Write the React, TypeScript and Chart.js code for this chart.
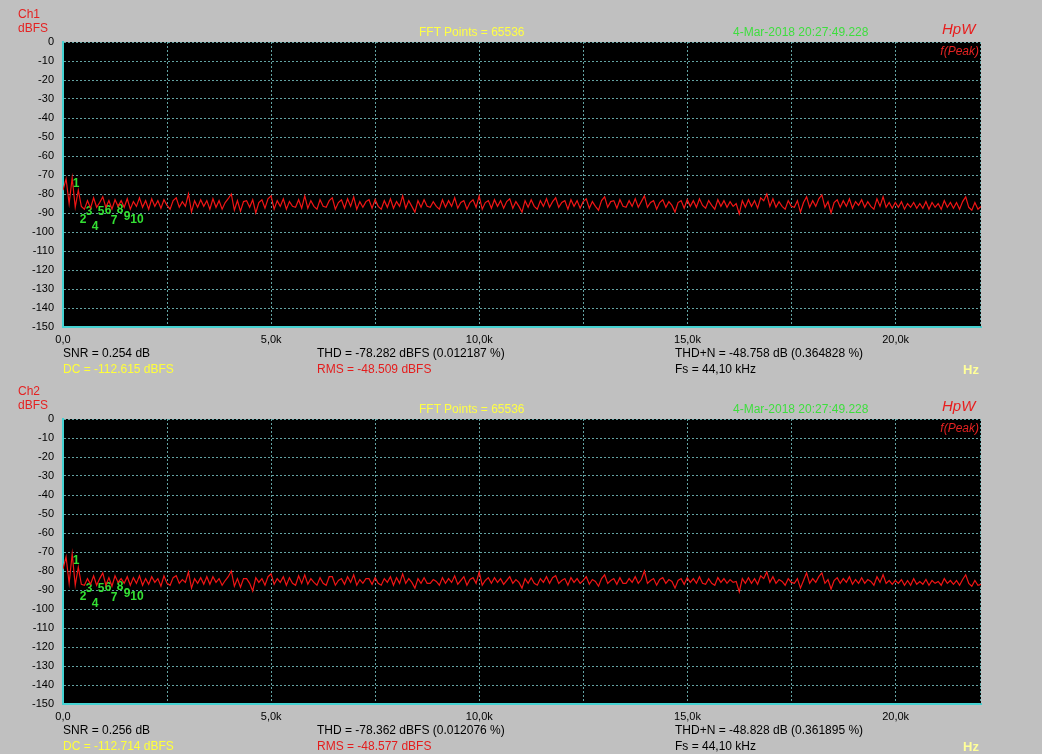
import React, { useEffect, useRef } from "react";
import { Chart, registerables } from "chart.js";

Chart.register(...registerables);

// ---- data ----
const binStepHz = 73.5; // display bin width (Hz)

const ch1Levels = [
  -78, -72, -85, -71.5, -87, -78, -86.5, -88, -83.5, -87.5, -82, -87, -84.5, -81.5, -87, -83.5, -88, -83, -86.5, -83.5,
  -87, -82.5, -88, -84, -86.5, -82, -87, -83.5, -88, -82.5, -86.5, -83.5, -87.5, -83, -86, -88, -83.5, -82, -87, -84,
  -86.5, -80, -89.5, -83.5, -87, -83, -86.5, -83.5, -88, -82.5, -87, -83.5, -88, -84.5, -82.5, -80, -88.5, -83.5, -89, -84,
  -83.5, -87, -83, -90, -84.5, -83, -87.5, -82.5, -81, -88, -83.5, -86.5, -82.5, -88, -84, -86.5, -87, -83, -87.5, -81,
  -87.5, -83.5, -86.5, -88, -83, -86.5, -87, -83.5, -82, -88, -84.5, -83, -87.5, -82.5, -86.5, -81.5, -88, -84, -87, -84,
  -83, -87.5, -83, -86.5, -88, -83.5, -87, -82.5, -87.5, -84, -86.5, -81, -87.5, -83.5, -86.5, -89.5, -83.5, -87, -83, -86.5,
  -87, -84, -86.5, -88, -83, -87, -83.5, -86.5, -82, -87.5, -84.5, -83.5, -88, -84.5, -83, -87, -81, -88, -84.5, -83.5,
  -87.5, -83, -86.5, -83.5, -87.5, -84, -82.5, -87.5, -84, -86.5, -89.5, -83.5, -87, -83, -86.5, -88, -83.5, -86.5, -82.5, -87,
  -84, -82, -87, -84.5, -83.5, -88, -83, -86.5, -83.5, -87.5, -84, -82.5, -87.5, -84, -86.5, -88.5, -83.5, -81.5, -87, -84,
  -83.5, -87.5, -83, -86.5, -87, -83.5, -86.5, -82.5, -87, -84, -81, -87, -84.5, -83.5, -88, -84.5, -83, -87, -84, -86,
  -89.5, -84.5, -83.5, -87.5, -83, -86.5, -83.5, -87, -82.5, -86, -87.5, -83.5, -86, -88, -83, -86.5, -83.5, -87, -84, -86.5,
  -85, -90.5, -83.5, -87, -83, -86.5, -83.5, -87.5, -82, -83.5, -80, -86.5, -82.5, -87, -84, -86.5, -88, -83.5, -86.5, -87,
  -83.5, -89.5, -84.5, -81.5, -87, -83.5, -86.5, -82.5, -80.5, -87, -84, -90, -84.5, -83, -87, -83.5, -86.5, -82.5, -87.5, -84,
  -86, -83, -87, -84, -86.5, -88, -82.5, -86.5, -81.5, -87, -84.5, -87.5, -84.5, -87, -84, -88, -85, -87, -84.5, -87.5,
  -85, -87.5, -84, -88, -84.5, -87, -85, -88, -83.5, -87, -84.5, -87.5, -84.5, -88, -84, -81.5, -87, -88.5, -84.5, -88, -86.5,
];

const ch2Levels = [
  -79, -72.5, -86.5, -71, -87.5, -78, -87, -87.5, -84, -87, -82.5, -87.5, -84, -81, -87.5, -83.5, -88, -82.5, -86, -84,
  -86.5, -83, -87.5, -83.5, -86.5, -82.5, -87.5, -84, -87, -83, -86, -84, -88, -82.5, -86.5, -87.5, -83.5, -82.5, -86.5, -84.5,
  -86, -80.5, -89, -84, -86.5, -83.5, -87, -83, -87, -83, -86, -84, -87.5, -85, -83, -80, -88, -84, -88.5, -84,
  -84, -86.5, -90.5, -83.5, -86, -84, -87.5, -83, -81.5, -87, -84, -86, -83, -87.5, -83.5, -86.5, -87.5, -82.5, -86.5, -82,
  -87, -84, -86, -87.5, -83.5, -86.5, -87.5, -83, -83, -87.5, -85, -84, -87, -83, -86, -82, -87.5, -84.5, -86.5, -84,
  -84, -87, -83.5, -86.5, -87.5, -84, -86, -83, -87.5, -83.5, -86.5, -81.5, -86.5, -84, -86, -89, -84, -86.5, -83.5, -86.5,
  -86.5, -84.5, -85.5, -87.5, -83.5, -86.5, -84, -86, -82.5, -87, -85, -83, -87.5, -84.5, -83.5, -86.5, -80.5, -87.5, -85, -83.5,
  -86.5, -83.5, -86, -84, -87, -85, -83, -86.5, -84.5, -86, -89, -84, -86.5, -83.5, -86.5, -87.5, -84, -86, -83, -86.5,
  -83.5, -82.5, -86.5, -85, -84, -87.5, -83.5, -86, -84, -86.5, -85, -83, -87, -84.5, -85.5, -88, -84, -82, -86.5, -85,
  -84, -87, -83.5, -86.5, -86.5, -84, -86, -83, -86.5, -84.5, -80, -86.5, -85, -84, -87.5, -84.5, -83.5, -86.5, -84.5, -85.5,
  -89, -85, -84, -87, -83.5, -86, -84, -86.5, -83, -86.5, -87, -84, -86.5, -87.5, -83.5, -86, -84, -86.5, -84.5, -86,
  -85.5, -91, -84, -86.5, -83.5, -86.5, -84, -87, -82.5, -84, -80.5, -86, -83, -86.5, -84.5, -85.5, -87.5, -84, -86, -86.5,
  -84, -89, -85, -81, -86.5, -84, -86, -83, -81, -86.5, -84.5, -89.5, -85, -83.5, -86.5, -84, -86, -83, -87, -84.5,
  -86.5, -83.5, -86.5, -84.5, -85.5, -87.5, -83, -86, -82, -86.5, -85, -87, -85, -86.5, -84.5, -87.5, -85, -87.5, -84, -87,
  -85.5, -87, -84.5, -87.5, -85, -86.5, -85.5, -87.5, -84, -86.5, -85, -87, -85, -87.5, -84.5, -82, -86.5, -88, -85, -87.5, -87,
];

// harmonic marker labels (frequency in Hz, label level in dBFS)
const harmonicLabels = ["1", "2", "3", "4", "5", "6", "7", "8", "9", "10"];
const harmonicFreqs = [312, 480, 624, 769, 913, 1081, 1225, 1369, 1537, 1777];
const ch1HarmonicLevels = [-74.7, -93.7, -89.5, -97.4, -89.5, -88.9, -94.2, -88.4, -92.1, -93.7];
const ch2HarmonicLevels = [-74.7, -93.7, -89.5, -97.4, -89.5, -88.9, -94.2, -88.4, -92.1, -93.7];

// axes
const xMinHz = 0;
const xMaxHz = 22050;
const xGridValues = [0, 2500, 5000, 7500, 10000, 12500, 15000, 17500, 20000];
const xTickValues = [0, 5000, 10000, 15000, 20000];
const xTickLabels = ["0,0", "5,0k", "10,0k", "15,0k", "20,0k"];
const yMinDb = -150;
const yMaxDb = 0;
const yStepDb = 10;

// texts
const channelNames = ["Ch1", "Ch2"];
const unitText = "dBFS";
const fftText = "FFT Points = 65536";
const dateText = "4-Mar-2018 20:27:49.228";
const brandText = "HpW";
const modeText = "f(Peak)";
const snrTexts = ["SNR = 0.254 dB", "SNR = 0.256 dB"];
const dcTexts = ["DC = -112.615 dBFS", "DC = -112.714 dBFS"];
const thdTexts = ["THD = -78.282 dBFS (0.012187 %)", "THD = -78.362 dBFS (0.012076 %)"];
const rmsTexts = ["RMS = -48.509 dBFS", "RMS = -48.577 dBFS"];
const thdnTexts = ["THD+N = -48.758 dB (0.364828 %)", "THD+N = -48.828 dB (0.361895 %)"];
const fsText = "Fs = 44,10 kHz";
const xUnitText = "Hz";

// ---- styles ----
const FONT = "'Liberation Sans', Arial, sans-serif";
const GRID = "#63a3a3";
const CYAN = "#45d2d2";
const TRACE = "#f01515";
const MARK = "#33e033";
const PANEL_W = 1042;
const PANEL_H = 377;

const decorPlugin = {
  id: "decor",
  beforeDraw(chart: any) {
    const { ctx, chartArea: a } = chart;
    ctx.save();
    ctx.fillStyle = "#000";
    ctx.fillRect(a.left, a.top, a.right - a.left, a.bottom - a.top);
    ctx.restore();
  },
  beforeDatasetsDraw(chart: any, _args: any, opts: any) {
    const { ctx, chartArea: a, scales } = chart;
    ctx.save();
    ctx.strokeStyle = GRID;
    ctx.lineWidth = 1;
    ctx.setLineDash([2, 2]);
    ctx.beginPath();
    ctx.moveTo(a.right - 0.5, a.top);
    ctx.lineTo(a.right - 0.5, a.bottom);
    ctx.stroke();
    ctx.setLineDash([]);
    ctx.fillStyle = MARK;
    ctx.font = `bold 12px ${FONT}`;
    ctx.textAlign = "center";
    ctx.textBaseline = "middle";
    const levels: number[] = opts.levels || [];
    levels.forEach((lv, i) => {
      ctx.fillText(
        harmonicLabels[i],
        scales.x.getPixelForValue(harmonicFreqs[i]),
        scales.y.getPixelForValue(lv)
      );
    });
    ctx.restore();
  },
};

function Label(props: {
  x: number;
  y: number;
  text: string;
  size?: number;
  color?: string;
  bold?: boolean;
  italic?: boolean;
  right?: boolean;
}) {
  const size = props.size || 12;
  const style: React.CSSProperties = {
    position: "absolute",
    top: props.y - 0.49 * size,
    fontFamily: FONT,
    fontSize: size,
    lineHeight: `${size}px`,
    color: props.color || "#000",
    fontWeight: props.bold ? "bold" : "normal",
    fontStyle: props.italic ? "italic" : "normal",
    whiteSpace: "nowrap",
  };
  if (props.right) style.right = PANEL_W - props.x;
  else style.left = props.x;
  return <span style={style}>{props.text}</span>;
}

function Panel({ idx, top }: { idx: number; top: number }) {
  const ref = useRef<HTMLCanvasElement>(null);
  useEffect(() => {
    if (!ref.current) return;
    const levels = idx === 0 ? ch1Levels : ch2Levels;
    const data = levels.map((v, i) => ({ x: i * binStepHz, y: v }));
    const chart = new Chart(ref.current, {
      type: "line",
      data: {
        datasets: [
          {
            data,
            borderColor: TRACE,
            borderWidth: 1.2,
            pointRadius: 0,
            tension: 0,
            fill: false,
          },
        ],
      },
      options: {
        animation: false,
        responsive: false,
        devicePixelRatio: 1,
        layout: { padding: { left: 8, top: 42, right: 61, bottom: 0 } },
        plugins: {
          legend: { display: false },
          tooltip: { enabled: false },
          decor: { levels: idx === 0 ? ch1HarmonicLevels : ch2HarmonicLevels },
        } as any,
        scales: {
          x: {
            type: "linear",
            min: xMinHz,
            max: xMaxHz,
            afterBuildTicks: (s: any) => {
              s.ticks = xGridValues.map((v) => ({ value: v }));
            },
            afterFit: (s: any) => {
              s.height = 50;
            },
            ticks: {
              autoSkip: false,
              maxRotation: 0,
              minRotation: 0,
              padding: 6,
              color: "#000",
              font: { family: FONT, size: 11 },
              callback: (v: any) => {
                const k = xTickValues.indexOf(Number(v));
                return k >= 0 ? xTickLabels[k] : "";
              },
            },
            grid: {
              color: (c: any) => (c.tick && c.tick.value === xMinHz ? "rgba(0,0,0,0)" : GRID),
              lineWidth: 1,
              drawTicks: false,
            },
            border: { display: true, color: CYAN, width: 2, dash: [2, 2] },
          },
          y: {
            type: "linear",
            min: yMinDb,
            max: yMaxDb,
            afterFit: (s: any) => {
              s.width = 55;
            },
            ticks: {
              stepSize: yStepDb,
              autoSkip: false,
              padding: 9,
              color: "#000",
              font: { family: FONT, size: 11 },
            },
            grid: {
              color: (c: any) => (c.tick && c.tick.value === yMinDb ? "rgba(0,0,0,0)" : GRID),
              lineWidth: 1,
              drawTicks: false,
            },
            border: { display: true, color: CYAN, width: 2, dash: [2, 2] },
          },
        },
      } as any,
      plugins: [decorPlugin as any],
    });
    return () => chart.destroy();
  }, [idx]);

  return (
    <div style={{ position: "absolute", left: 0, top, width: PANEL_W, height: PANEL_H }}>
      <canvas ref={ref} width={PANEL_W} height={PANEL_H} style={{ display: "block", width: PANEL_W, height: PANEL_H }} />
      <Label x={18} y={14} text={channelNames[idx]} color="#e42222" />
      <Label x={18} y={28} text={unitText} color="#e42222" />
      <Label x={419} y={32} text={fftText} color="#ffff44" />
      <Label x={733} y={32} text={dateText} color="#3ede3e" />
      <Label x={942} y={28} text={brandText} color="#e81c1c" size={15} italic />
      <Label x={979} y={51} text={modeText} color="#e42222" italic right />
      <Label x={63} y={353} text={snrTexts[idx]} />
      <Label x={63} y={369} text={dcTexts[idx]} color="#ffff38" />
      <Label x={317} y={353} text={thdTexts[idx]} />
      <Label x={317} y={369} text={rmsTexts[idx]} color="#e41c1c" />
      <Label x={675} y={353} text={thdnTexts[idx]} />
      <Label x={675} y={369} text={fsText} />
      <Label x={963} y={369} text={xUnitText} color="#ffff99" bold size={13} />
    </div>
  );
}

export default function App() {
  return (
    <div
      style={{
        position: "absolute",
        left: 0,
        top: 0,
        width: PANEL_W,
        height: PANEL_H * 2,
        background: "#c0c0c0",
        overflow: "hidden",
      }}
    >
      <Panel idx={0} top={0} />
      <Panel idx={1} top={PANEL_H} />
    </div>
  );
}
